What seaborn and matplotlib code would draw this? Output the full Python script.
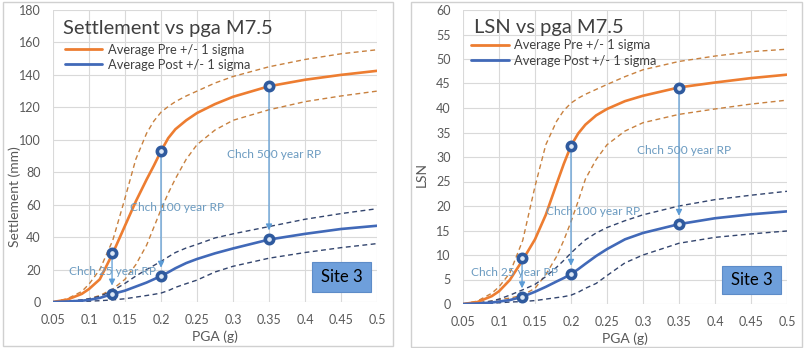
import matplotlib
matplotlib.use("Agg")
import matplotlib.pyplot as plt
from matplotlib.patches import Rectangle
from matplotlib.lines import Line2D
import seaborn as sns
import numpy as np

# ---------------- data ----------------
pga = [0.05, 0.07, 0.09, 0.10, 0.115, 0.133, 0.15, 0.165, 0.18, 0.19, 0.20,
       0.21, 0.22, 0.235, 0.25, 0.275, 0.30, 0.35, 0.40, 0.45, 0.50]

# Settlement (mm)
set_pre_mean = [0, 1.5, 5, 8, 14, 30, 47, 62, 75.5, 84, 93,
                101, 106.5, 112, 116.5, 122, 126.5, 133, 137, 140, 142.5]
set_pre_up = [0, 2, 6.5, 11, 20, 38, 64, 88, 104, 111.5, 117,
              120.5, 123.5, 127, 130, 135, 139, 145, 149.5, 153, 155.5]
set_pre_lo = [0, 0.3, 1.2, 2, 4, 8, 14, 23, 35, 46, 57,
              67, 76, 88, 97, 106, 112, 118.5, 123.5, 127, 130]
set_post_mean = [0, 0.3, 0.8, 1.3, 2.5, 5, 7, 9.5, 12, 14, 16,
                 18.3, 20.8, 24, 26.5, 30, 33, 38.5, 42, 45, 47]
set_post_up = [0, 0.5, 1.3, 2, 3.5, 7, 11.5, 16, 20, 22.5, 25,
               27.8, 30.5, 33.3, 35.5, 39.5, 42, 46.5, 51, 54.5, 57.5]
set_post_lo = [0, 0.1, 0.3, 0.5, 0.8, 1.3, 2, 3, 4, 4.7, 5.5,
               7, 9, 11.3, 13.5, 18.5, 22, 27, 30.5, 33.5, 36]

# LSN
lsn_pre_mean = [0, 0.4, 1.6, 2.6, 4.9, 9.0, 13.2, 18.2, 24.5, 28.6, 32.3,
                34.8, 36.6, 38.5, 39.8, 41.4, 42.5, 44.2, 45.2, 46.1, 46.8]
lsn_pre_up = [0, 0.6, 2.2, 3.5, 6.3, 13, 24, 32.5, 37.3, 39.5, 41,
              42, 42.8, 43.8, 44.8, 46.4, 47.8, 49.5, 50.6, 51.5, 52]
lsn_pre_lo = [0, 0.2, 0.6, 0.9, 1.2, 1.8, 3.2, 6, 9.7, 13, 16.8,
              21, 25.5, 29.5, 32.5, 35.3, 37, 38.7, 39.8, 40.8, 41.6]
lsn_post_mean = [0, 0.1, 0.3, 0.5, 0.8, 1.5, 2.5, 3.5, 4.6, 5.3, 6.1,
                 7.1, 8.2, 9.8, 11.2, 13.2, 14.5, 16.3, 17.5, 18.3, 18.9]
lsn_post_up = [0, 0.2, 0.6, 1, 1.8, 2.9, 4, 5.6, 7.5, 8.9, 10.4,
               11.8, 13.1, 14.5, 15.6, 17, 18.2, 20, 21.3, 22.2, 23]
lsn_post_lo = [0, 0.05, 0.15, 0.25, 0.4, 0.5, 0.7, 1, 1.3, 1.5, 1.8,
               2.4, 3.2, 4.2, 5.8, 8.4, 10, 12.4, 13.6, 14.3, 14.9]

# return-period points (PGA) and values
rp_pga = [0.132, 0.20, 0.35]
rp_labels = ["Chch 25 year RP", "Chch 100 year RP", "Chch 500 year RP"]
set_rp_pre = [30, 93, 133]
set_rp_post = [5, 16, 39]
lsn_rp_pre = [9.3, 32.3, 44.1]
lsn_rp_post = [1.5, 6.1, 16.3]

xticks = [0.05, 0.1, 0.15, 0.2, 0.25, 0.3, 0.35, 0.4, 0.45, 0.5]
xticklabels = ["0.05", "0.1", "0.15", "0.2", "0.25", "0.3", "0.35", "0.4", "0.45", "0.5"]

# ---------------- style ----------------
sns.set_theme(style="whitegrid")
plt.rcParams["font.family"] = ["Lato", "DejaVu Sans"]

ORANGE = "#ED7D31"
ORANGE_D = "#C8813F"
BLUE = "#4169B8"
BLUE_D = "#33456E"
ARROW = "#5B9BD5"
TXT = "#6A9AC0"
GREY = "#595959"

fig = plt.figure(figsize=(8.08, 3.48), dpi=100)
ax1 = fig.add_axes([53 / 808, 1 - 302 / 348, 324 / 808, 292 / 348])
ax2 = fig.add_axes([463 / 808, 1 - 304 / 348, 324 / 808, 294 / 348])

# panel borders
fig.add_artist(Rectangle((3 / 808, 2 / 348), 390 / 808, 344 / 348, transform=fig.transFigure,
                         fill=False, edgecolor="#D0D0D0", lw=1))
fig.add_artist(Rectangle((411 / 808, 1 / 348), 391 / 808, 345 / 348, transform=fig.transFigure,
                         fill=False, edgecolor="#D0D0D0", lw=1))


def draw(ax, pre_m, pre_u, pre_l, post_m, post_u, post_l, rp_pre, rp_post,
         ymax, ystep, ylabel, ylab_xy, title, label_pos, title_pos, leg_pos, box):
    dash = (0, (3.5, 2.5))
    sns.lineplot(x=pga, y=pre_u, ax=ax, color=ORANGE_D, lw=1.0, linestyle=dash, zorder=3)
    sns.lineplot(x=pga, y=pre_l, ax=ax, color=ORANGE_D, lw=1.0, linestyle=dash, zorder=3)
    sns.lineplot(x=pga, y=post_u, ax=ax, color=BLUE_D, lw=1.0, linestyle=dash, zorder=3)
    sns.lineplot(x=pga, y=post_l, ax=ax, color=BLUE_D, lw=1.0, linestyle=dash, zorder=3)
    sns.lineplot(x=pga, y=pre_m, ax=ax, color=ORANGE, lw=1.9, zorder=4)
    sns.lineplot(x=pga, y=post_m, ax=ax, color=BLUE, lw=1.9, zorder=4)

    for x, a, b in zip(rp_pga, rp_pre, rp_post):
        ax.annotate("", xy=(x, b), xytext=(x, a),
                    arrowprops=dict(arrowstyle="-|>", color=ARROW, lw=0.9,
                                    shrinkA=4, shrinkB=6, mutation_scale=9),
                    zorder=5)
    sns.scatterplot(x=rp_pga + rp_pga, y=rp_pre + rp_post, ax=ax, marker="o", s=36,
                    facecolor="#DCE7F5", edgecolor="#2F5A9E", linewidth=2.6, zorder=6)

    for (x, y), lab in zip(label_pos, rp_labels):
        ax.text(x, y, lab, color=TXT, fontsize=8.6, ha="center", va="center", zorder=7)

    ax.set_xlim(0.05, 0.5)
    ax.set_ylim(0, ymax)
    ax.set_xticks(xticks)
    ax.set_xticklabels(xticklabels)
    ax.set_yticks(np.arange(0, ymax + 0.1, ystep))
    ax.tick_params(axis="both", length=0, labelsize=9, colors=GREY)
    ax.tick_params(axis="x", pad=9)
    ax.tick_params(axis="y", pad=9)
    ax.grid(True, color="#D9D9D9", lw=0.8)
    for s in ax.spines.values():
        s.set_visible(False)
    ax.set_xlabel("PGA (g)", fontsize=10, color=GREY, labelpad=3)
    ax.set_ylabel(ylabel, fontsize=10, color=GREY)
    ax.yaxis.set_label_coords(*ylab_xy)

    ax.text(title_pos[0], title_pos[1], title, transform=ax.transAxes, fontsize=14.5,
            color="#404040", ha="left", va="center", zorder=8)
    handles = [Line2D([], [], color=ORANGE, lw=2.0), Line2D([], [], color=BLUE, lw=2.0)]
    ax.legend(handles, ["Average Pre +/- 1 sigma", "Average Post +/- 1 sigma"],
              loc="upper left", bbox_to_anchor=leg_pos, frameon=False, fontsize=9.3,
              handlelength=2.9, handletextpad=0.4, labelspacing=0.25,
              borderpad=0, borderaxespad=0, labelcolor="#404040")

    ax.add_patch(Rectangle((box[0], box[1]), box[2], box[3], transform=ax.transAxes,
                           facecolor="#6E9FDB", edgecolor="#5D8CC8", lw=0.8, zorder=8))
    ax.text(box[0] + box[2] / 2, box[1] + box[3] / 2, "Site 3", transform=ax.transAxes,
            fontsize=12, color="black", ha="center", va="center", zorder=9)


draw(ax1, set_pre_mean, set_pre_up, set_pre_lo, set_post_mean, set_post_up, set_post_lo,
     set_rp_pre, set_rp_post, 180, 20, "Settlement (mm)", (-0.1, 0.36), "Settlement vs pga M7.5",
     [(0.133, 19), (0.223, 58), (0.357, 91)], (0.031, 0.938), (0.037, 0.885),
     (0.799, 0.034, 0.182, 0.103))
draw(ax2, lsn_pre_mean, lsn_pre_up, lsn_pre_lo, lsn_post_mean, lsn_post_up, lsn_post_lo,
     lsn_rp_pre, lsn_rp_post, 60, 5, "LSN", (-0.11, 0.44), "LSN vs pga M7.5",
     [(0.1215, 6.5), (0.2305, 18.8), (0.357, 31.4)], (0.034, 0.942), (0.025, 0.9),
     (0.799, 0.034, 0.182, 0.095))

fig.savefig("out.png", dpi=100)
